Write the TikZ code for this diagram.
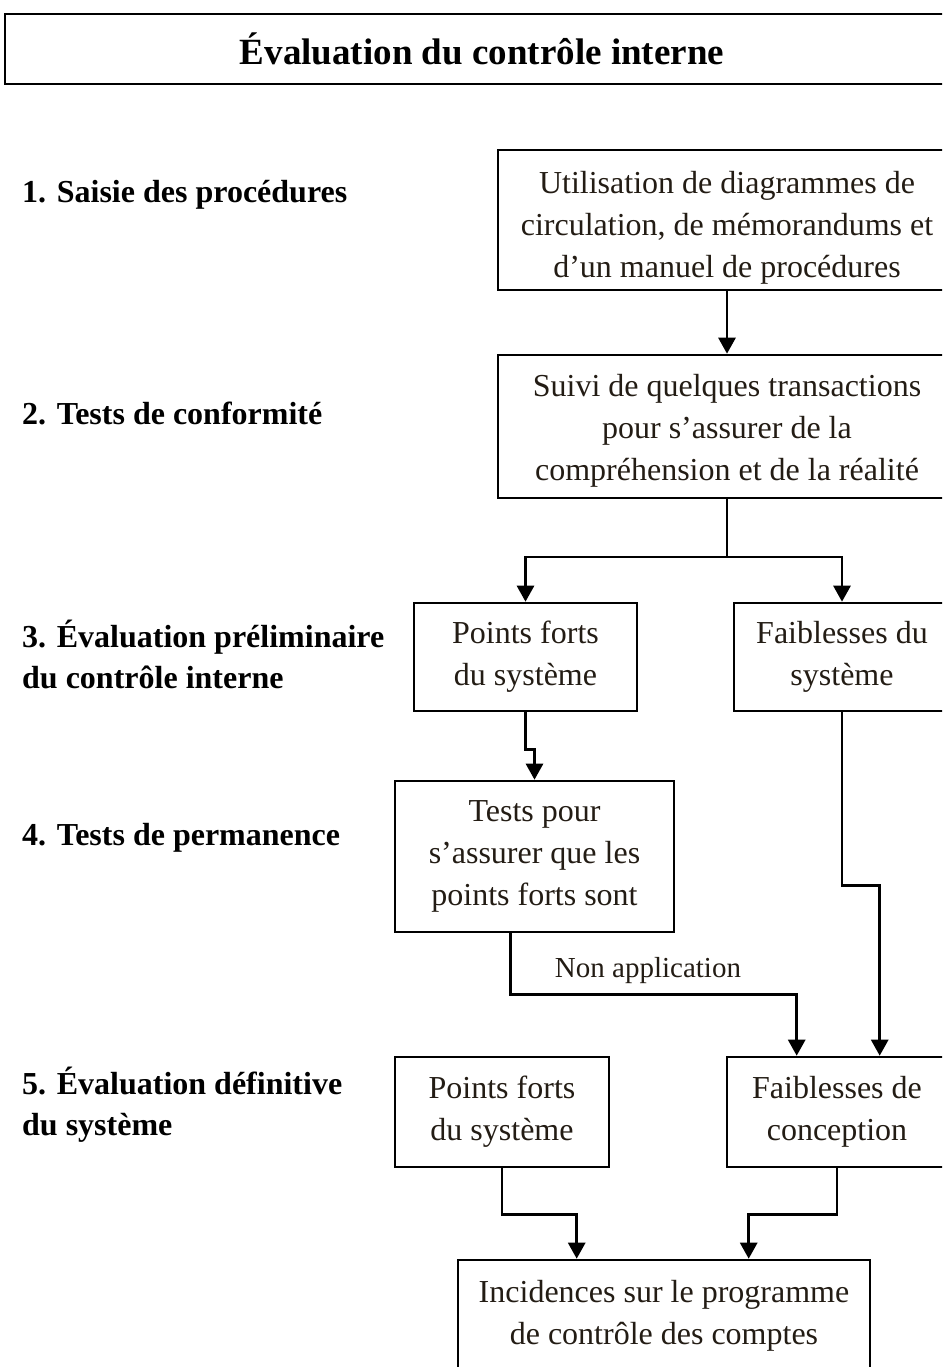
\documentclass[tikz,border=0pt]{standalone}
\usepackage{fontspec}
\setmainfont{Liberation Serif}
\usetikzlibrary{arrows.meta}
\definecolor{ink}{RGB}{35,28,20}
\begin{document}
\begin{tikzpicture}[x=1pt,y=-1pt,
  box/.style={draw, line width=2.6pt, inner sep=0pt, align=center, text=ink,
    font=\fontsize{32}{42}\selectfont},
  lbl/.style={anchor=west, align=left, inner sep=0pt,
    font=\bfseries\fontsize{32}{41}\selectfont},
  flow/.style={line width=2.8pt, -{Triangle[length=16pt,width=17pt]}},
  link/.style={line width=2.8pt}]
\useasboundingbox (0,0) rectangle (942,1367);
\clip (0,0) rectangle (942,1367);

% title banner
\node[draw, line width=2.6pt, minimum width=954pt, minimum height=70pt, inner sep=0pt,
  font=\bfseries\fontsize{37}{44}\selectfont] (title) at (482,49) {Évaluation du contrôle interne};

% stage labels
\node[lbl] (l1) at (22,195) {1. Saisie des procédures};
\node[lbl] (l2) at (22,413) {2. Tests de conformité};
\node[lbl] (l3) at (22,654.5) {3. Évaluation préliminaire\\du contrôle interne};
\node[lbl] (l4) at (22,838) {4. Tests de permanence};
\node[lbl] (l5) at (22,1105) {5. Évaluation définitive\\du système};

% process boxes (a tall strut on the first line lowers the text block)
\node[box, minimum width=458pt, minimum height=140pt] (b1) at (727,220)
  {\rule{0pt}{38pt}Utilisation de diagrammes de\\circulation, de mémorandums et\\d’un manuel de procédures};
\node[box, minimum width=458pt, minimum height=143pt] (b2) at (727,426.5)
  {\rule{0pt}{31pt}Suivi de quelques transactions\\pour s’assurer de la\\compréhension et de la réalité};
\node[box, minimum width=223pt, minimum height=108pt] (b3a) at (525.5,657)
  {Points forts\\du système};
\node[box, minimum width=216pt, minimum height=108pt] (b3b) at (842,657)
  {Faiblesses du\\système};
\node[box, minimum width=279pt, minimum height=151pt] (b4) at (534.5,856.5)
  {Tests pour\\s’assurer que les\\points forts sont};
\node[box, minimum width=214pt, minimum height=110pt] (b5a) at (502,1112)
  {Points forts\\du système};
\node[box, minimum width=220pt, minimum height=110pt] (b5b) at (837,1112)
  {Faiblesses de\\conception};
\node[box, minimum width=412pt, minimum height=112pt] (b6) at (664,1316)
  {Incidences sur le programme\\de contrôle des comptes};

% connectors
\draw[flow] (b1.south) -- (b2.north);
\coordinate (split) at (727,557);
\draw[link] (b2.south) -- (split);
\draw[flow] (split) -| (b3a.north);
\draw[flow] (split) -| (b3b.north);
\draw[flow] (b3a.south) -- ++(0,37) -| (b4.north);
\draw[flow] ([xshift=-24pt]b4.south) -- ++(0,61) -| ([xshift=71pt]b5b.north west);
\node[text=ink, inner sep=0pt, font=\fontsize{29}{34}\selectfont] (na) at (648,971) {Non application};
\draw[flow] (b3b.south) -- ++(0,173) -| ([xshift=154pt]b5b.north west);
\draw[flow] (b5a.south) -- ++(0,46) -| ([xshift=120pt]b6.north west);
\draw[flow] (b5b.south) -- ++(0,46) -| ([xshift=292pt]b6.north west);
\end{tikzpicture}
\end{document}
